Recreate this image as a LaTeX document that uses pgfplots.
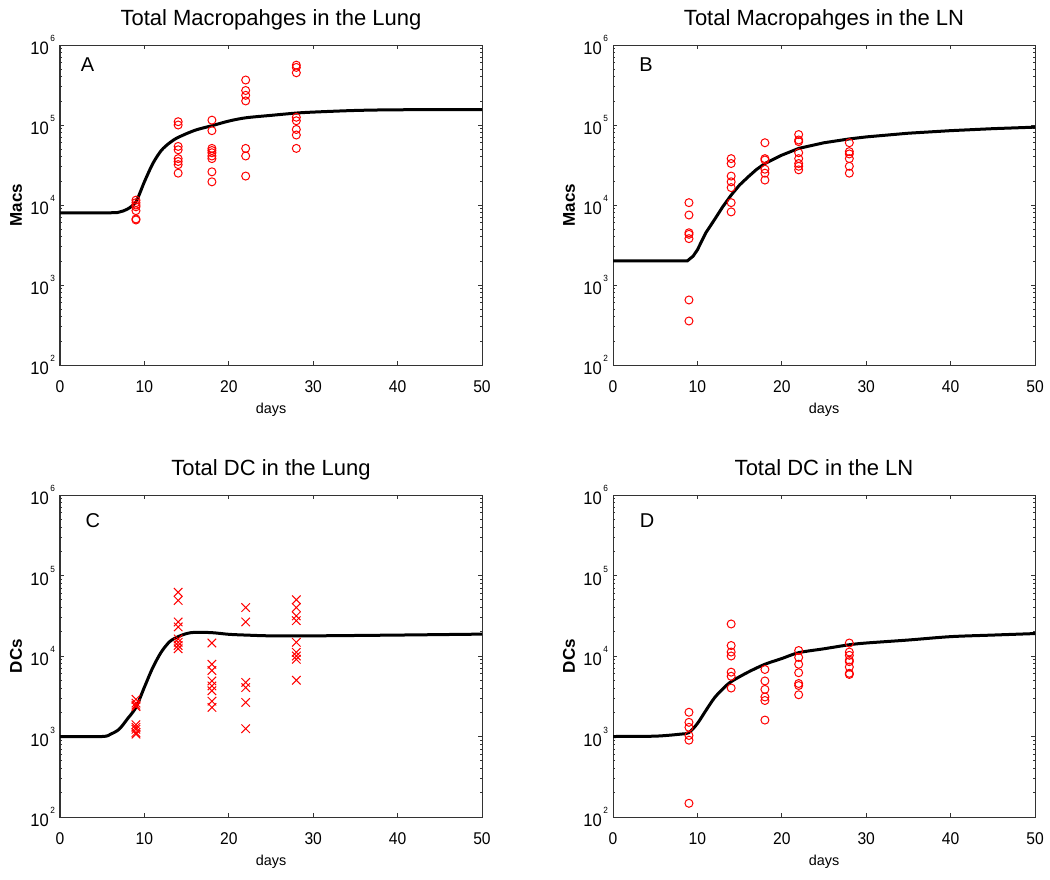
\documentclass[border=0pt]{standalone}
\usepackage{fontspec}
\setmainfont{Liberation Sans}
\newfontfamily\tickfont[FakeStretch=0.92]{Liberation Sans}
\usepackage{pgfplots}
\pgfplotsset{compat=1.18}

% 10^n tick label in text font
\newcommand{\tenpow}[1]{\mbox{\tickfont 10\hspace{0.8pt}\raisebox{6.5pt}{\fontsize{4.5}{4.5}\selectfont #1}}}

\pgfplotsset{
  every axis/.append style={
    scale only axis, width=211pt, height=160pt,
    xmin=0, xmax=50, ymin=1e2, ymax=1e6,
    /pgf/number format/assume math mode=true,
    xtick={0,10,20,30,40,50},
    ytick={1e2,1e3,1e4,1e5,1e6},
    yticklabels={\tenpow{2},\tenpow{3},\tenpow{4},\tenpow{5},\tenpow{6}},
    minor ytick={200,300,400,500,600,700,800,900,2000,3000,4000,5000,6000,7000,8000,9000,
      2e4,3e4,4e4,5e4,6e4,7e4,8e4,9e4,2e5,3e5,4e5,5e5,6e5,7e5,8e5,9e5},
    tick align=inside, major tick length=2pt, minor tick length=1pt,
    axis line style={line width=0.5pt, black!80},
    tick style={black!80, line width=0.4pt},
    yticklabel style={font=\tickfont\fontsize{9}{9}\selectfont, xshift=1pt},
    xticklabel style={font=\tickfont\fontsize{8.5}{9}\selectfont, yshift=-4.5pt},
    title style={font=\fontsize{11}{12}\selectfont,
      at={(axis description cs:0.5,1)}, anchor=base, yshift=4pt},
    xlabel style={font=\fontsize{7.2}{8}\selectfont,
      at={(axis description cs:0.5,0)}, anchor=base, yshift=-24pt},
    ylabel style={font=\bfseries\fontsize{8.5}{9}\selectfont,
      at={(axis description cs:0,0.5)}, anchor=center, yshift=22pt},
    xlabel={days},
  },
  mymodel/.style={black, line width=1.5pt, smooth, tension=0.5, no markers},
  mycirc/.style={only marks, mark=o, mark size=2pt, red, mark options={line width=0.5pt}},
  mycross/.style={only marks, mark=x, mark size=3pt, red, mark options={line width=0.5pt}},
}

\begin{document}
\begin{tikzpicture}
\useasboundingbox (0,0) rectangle (525pt,-439.5pt);

% A: macrophages, lung
\begin{semilogyaxis}[at={(30pt,-22.5pt)}, anchor=north west,
  title={Total Macropahges in the Lung}, ylabel={Macs}]
\addplot[mymodel] coordinates {
  (0,8000) (6,8000) (7,8150) (8,8900) (9,11000) (10,19500) (11,33000) (12,48000)
  (13,60000) (14,70000) (16,86000) (18,98000) (20,112000) (22,123000) (25,132000)
  (28,141000) (30,145000) (35,152000) (40,155000) (50,156000)};
\addplot[mycirc] coordinates {
  (9,11500) (9,10700) (9,10000) (9,9500) (9,8500) (9,6700) (9,6500)
  (14,110000) (14,100000) (14,54000) (14,49000) (14,38000) (14,35000) (14,32000) (14,25000)
  (18,115000) (18,85000) (18,51000) (18,48000) (18,45000) (18,41000) (18,38000) (18,26000) (18,19500)
  (22,365000) (22,270000) (22,235000) (22,200000) (22,51000) (22,41000) (22,23000)
  (28,560000) (28,525000) (28,450000) (28,125000) (28,113000) (28,88000) (28,75000) (28,51000)};
\node[font=\fontsize{10}{10}\selectfont] at (rel axis cs:0.065,0.9375) {A};
\end{semilogyaxis}

% B: macrophages, LN
\begin{semilogyaxis}[at={(306.5pt,-22.5pt)}, anchor=north west,
  title={Total Macropahges in the LN}, ylabel={Macs}]
\addplot[black, line width=1.5pt, no markers] coordinates {
  (0,2000) (8.8,2000) (9.5,2300) (10,2750) (11,4500) (12,6500) (13,9500) (14,13300)
  (15,17800) (16,22400) (17,27800) (18,33000) (20,42000) (22,51000) (25,60000) (28,67000)
  (30,71000) (35,79000) (40,85000) (45,90000) (50,94000)};
\addplot[mycirc] coordinates {
  (9,10700) (9,7500) (9,4500) (9,4300) (9,3800) (9,650) (9,355)
  (14,38000) (14,33000) (14,23000) (14,19500) (14,16500) (14,10700) (14,8200)
  (18,60000) (18,38000) (18,36500) (18,28000) (18,25000) (18,20500)
  (22,76000) (22,65000) (22,62000) (22,45000) (22,38000) (22,33000) (22,30500) (22,27500)
  (28,60000) (28,46500) (28,43500) (28,38000) (28,30500) (28,25000)};
\node[font=\fontsize{10}{10}\selectfont] at (rel axis cs:0.078,0.9375) {B};
\end{semilogyaxis}

% C: DC, lung
\begin{semilogyaxis}[at={(30pt,-247.5pt)}, anchor=north west, height=161pt,
  title={Total DC in the Lung}, ylabel={DCs}]
\addplot[mymodel] coordinates {
  (0,1000) (5,1000) (6,1070) (7,1230) (8,1660) (9,2300) (10,4100) (11,7200)
  (12,11200) (13,15100) (14,17400) (15,19000) (16,19700) (18,19500) (20,18600)
  (22,18200) (25,17800) (30,17800) (40,18200) (50,18700)};
\addplot[mycross] coordinates {
  (9,2900) (9,2600) (9,2450) (9,2350) (9,1400) (9,1300) (9,1230) (9,1120) (9,1070)
  (14,62000) (14,49000) (14,26500) (14,23000) (14,16300) (14,14800) (14,13500) (14,12300)
  (18,14500) (18,7900) (18,6600) (18,4900) (18,4250) (18,3700) (18,2750) (18,2300)
  (22,40000) (22,26500) (22,4700) (22,4050) (22,2650) (22,1250)
  (28,50000) (28,40000) (28,31500) (28,27500) (28,14800) (28,11100) (28,10000) (28,9100) (28,5000)};
\node[font=\fontsize{10}{10}\selectfont] at (rel axis cs:0.078,0.922) {C};
\end{semilogyaxis}

% D: DC, LN
\begin{semilogyaxis}[at={(306.5pt,-247.5pt)}, anchor=north west, height=161pt,
  title={Total DC in the LN}, ylabel={DCs}]
\addplot[mymodel] coordinates {
  (0,1000) (5,1010) (8,1070) (9,1120) (10,1450) (11,2100) (12,3000) (13,3900)
  (14,4800) (16,6300) (18,7900) (20,9300) (22,11000) (25,12300) (28,13800)
  (30,14500) (35,15800) (40,17400) (45,18200) (50,19000)};
\addplot[mycirc] coordinates {
  (9,2000) (9,1500) (9,1300) (9,1030) (9,900) (9,148)
  (14,25000) (14,13500) (14,11200) (14,10000) (14,6300) (14,5600) (14,4000)
  (18,6800) (18,4900) (18,3850) (18,3100) (18,2800) (18,1600)
  (22,11700) (22,9600) (22,7900) (22,6200) (22,4550) (22,4300) (22,3300)
  (28,14500) (28,11200) (28,10200) (28,8900) (28,8500) (28,7300) (28,6100) (28,5900)};
\node[font=\fontsize{10}{10}\selectfont] at (rel axis cs:0.081,0.922) {D};
\end{semilogyaxis}
\end{tikzpicture}
\end{document}
